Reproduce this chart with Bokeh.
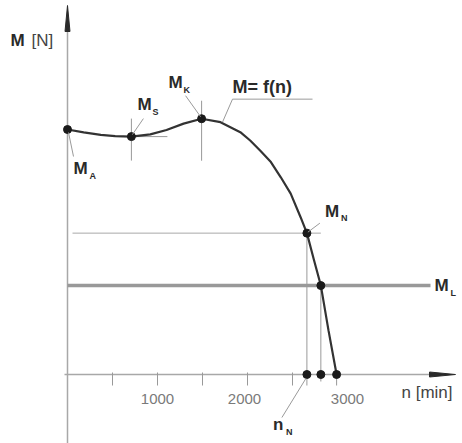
from bokeh.plotting import figure
from bokeh.models import Range1d
from bokeh.core.properties import value
from bokeh.embed import file_html
from bokeh.resources import INLINE

# ---- data ----
n_curve = [0, 180, 370, 530, 710, 920, 1100, 1290, 1490, 1700, 1920, 2030, 2140,
           2260, 2370, 2480, 2590, 2660, 2740, 2815, 2900, 2990]
M_curve = [100.0, 98.8, 97.8, 97.3, 97.1, 98.0, 99.8, 102.4, 104.4, 103.0, 98.9, 95.5,
           91.4, 86.7, 80.5, 73.8, 64.2, 57.7, 46.5, 36.3, 18.0, 0.0]

point_subs = ["A", "S", "K", "N", "L"]
point_n = [0, 710, 1490, 2660, 2815]
point_M = [100.0, 97.1, 104.4, 57.7, 36.3]

n_N = 2660
n_L = 2815
n_0 = 2990
M_N = 57.7
M_L = 36.3

minor_ticks = [500, 1000, 1500, 2000, 2500]
tick_values = [1000, 2000, 3000]
tick_labels = ["1000", "2000", "3000"]

# ---- scales (px per data unit) ----
SX = 0.09
SY = 2.45
W, H = 462, 443
XS = -67 / SX
XE = XS + W / SX
YE = 374 / SY
YS = YE - H / SY


def off(x, y, dxp, dyp):
    """point shifted by screen pixels (dyp positive = down)"""
    return x + dxp / SX, y - dyp / SY


p = figure(width=W, height=H, x_range=Range1d(XS, XE), y_range=Range1d(YS, YE),
           output_backend="svg", toolbar_location=None, min_border=0,
           x_axis_type=None, y_axis_type=None)
p.grid.visible = False
p.outline_line_color = None
p.background_fill_color = "white"
p.border_fill_color = "white"

FONT = value("Liberation Sans")
GREY = "#a8a8a8"
DARK = "#2a2a2a"

# axes
x_tip = (455 - 67) / SX
p.line([-3 / SX, x_tip - 20 / SX], [0, 0], line_color=GREY, line_width=1.5)
p.patch([x_tip, x_tip - 26 / SX, x_tip - 26 / SX], [0, 2.5 / SY, -2.5 / SY],
        fill_color=DARK, line_color=DARK)
y_tip = YE - 5 / SY
p.line([0, 0], [YS, y_tip - 20 / SY], line_color=GREY, line_width=1.5)
p.patch([0, -2.5 / SX, 2.5 / SX], [y_tip, y_tip - 26 / SY, y_tip - 26 / SY],
        fill_color=DARK, line_color=DARK)

# x ticks
p.segment(x0=minor_ticks, y0=[2 / SY] * len(minor_ticks), x1=minor_ticks,
          y1=[-11 / SY] * len(minor_ticks), line_color="#999999", line_width=1)
lbl_dx = [0, -3, 10]
p.text(x=[v + d / SX for v, d in zip(tick_values, lbl_dx)], y=[-24 / SY] * 3, text=tick_labels,
       text_font=FONT, text_font_size="15px", text_color="#7a7a7a",
       text_align="center", text_baseline="middle")

# construction lines
p.line([5 / SX, n_L], [M_N, M_N], line_color=GREY, line_width=1)
p.line([0, (430 - 67) / SX], [M_L, M_L], line_color="#999999", line_width=3.5)
p.segment(x0=[n_N, n_L, n_0], y0=[M_N, M_L, 0], x1=[n_N, n_L, n_0],
          y1=[-11 / SY, -7 / SY, -11 / SY], line_color="#999999", line_width=1)
# crosshairs at M_S and M_K
ms_n, ms_M = point_n[1], point_M[1]
mk_n, mk_M = point_n[2], point_M[2]
p.segment(x0=[ms_n, mk_n, ms_n], y0=[ms_M + 18 / SY, mk_M + 18 / SY, ms_M],
          x1=[ms_n, mk_n, ms_n + 36 / SX], y1=[ms_M - 24 / SY, mk_M - 42 / SY, ms_M],
          line_color="#999999", line_width=1)

# curve
p.line(n_curve, M_curve, line_color="#333333", line_width=2.2)

# points
p.scatter(point_n, point_M, size=8, color="#1a1a1a")
p.scatter([n_N, n_L, n_0], [0, 0, 0], size=8, color="#1a1a1a")

# leaders
lead = []
def leader(x, y, a, b):
    x0, y0 = off(x, y, *a)
    x1, y1 = off(x, y, *b)
    lead.append((x0, y0, x1, y1))

leader(point_n[0], point_M[0], (1, 3), (6, 27))
leader(point_n[1], point_M[1], (1, -2), (12, -18))
leader(point_n[2], point_M[2], (-1, -2), (-16, -23))
leader(point_n[3], point_M[3], (1, -1), (13, -10))
leader(n_N, 0, (-1, 4), (-25, 43))
# M = f(n) underline + leader, anchored on the curve near the peak
fx, fy = n_curve[9], M_curve[9]
leader(fx, fy, (2, 0), (12, -23))
leader(fx, fy, (12, -23), (92, -23))
p.segment(x0=[l[0] for l in lead], y0=[l[1] for l in lead],
          x1=[l[2] for l in lead], y1=[l[3] for l in lead],
          line_color="#9a9a9a", line_width=1)

# labels M_x
main_off = [(6, 39), (6, -32), (-33, -36), (18, -22)]
sub_off = [(22, 46), (21, -25), (-18, -29), (34, -15)]
mx, my, sx_, sy_ = [], [], [], []
for i in range(4):
    a = off(point_n[i], point_M[i], *main_off[i])
    b = off(point_n[i], point_M[i], *sub_off[i])
    mx.append(a[0]); my.append(a[1]); sx_.append(b[0]); sy_.append(b[1])
# M_L at the end of the load line
a = off((430 - 67) / SX, M_L, 4, 0)
b = off((430 - 67) / SX, M_L, 20, 7)
mx.append(a[0]); my.append(a[1]); sx_.append(b[0]); sy_.append(b[1])

p.text(x=mx, y=my, text=["M"] * 5, text_font=FONT, text_font_size="17px",
       text_font_style="bold", text_color=DARK, text_align="left", text_baseline="middle")
p.text(x=sx_, y=sy_, text=point_subs, text_font=FONT, text_font_size="9px",
       text_font_style="bold", text_color=DARK, text_align="left", text_baseline="middle")

# n_N label
a = off(n_N, 0, -34, 50)
b = off(n_N, 0, -21, 57)
p.text(x=[a[0]], y=[a[1]], text=["n"], text_font=FONT, text_font_size="17px",
       text_font_style="bold", text_color=DARK, text_align="left", text_baseline="middle")
p.text(x=[b[0]], y=[b[1]], text=["N"], text_font=FONT, text_font_size="9px",
       text_font_style="bold", text_color=DARK, text_align="left", text_baseline="middle")

# M = f(n)
a = off(fx, fy, 12, -35)
p.text(x=[a[0]], y=[a[1]], text=["M= f(n)"], text_font=FONT, text_font_size="18px",
       text_font_style="bold", text_color=DARK, text_align="left", text_baseline="middle")

# axis titles
p.text(x=[(401 - 67) / SX], y=[-18 / SY], text=["n [min]"], text_font=FONT,
       text_font_size="17px", text_color="#444444", text_align="left", text_baseline="middle")
p.text(x=[-57 / SX], y=[(374 - 40) / SY], text=["M"], text_font=FONT,
       text_font_size="17px", text_font_style="bold", text_color=DARK,
       text_align="left", text_baseline="middle")
p.text(x=[-36 / SX], y=[(374 - 40) / SY], text=["[N]"], text_font=FONT,
       text_font_size="17px", text_color="#444444", text_align="left", text_baseline="middle")

open("out.html", "w").write(file_html(p, INLINE))
